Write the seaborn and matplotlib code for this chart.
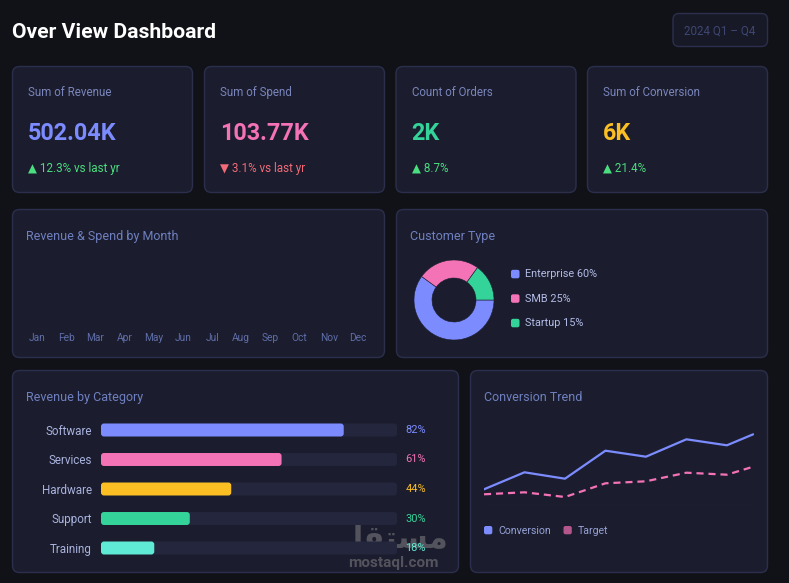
import matplotlib.pyplot as plt
import pandas as pd
import seaborn as sns
from matplotlib.patches import FancyBboxPatch

# ---- data -------------------------------------------------------------
kpi_labels = ["Sum of Revenue", "Sum of Spend", "Count of Orders", "Sum of Conversion"]
kpi_values = ["502.04K", "103.77K", "2K", "6K"]
kpi_deltas = ["▲ 12.3% vs last yr", "▼ 3.1% vs last yr", "▲ 8.7%", "▲ 21.4%"]
kpi_up = [True, False, True, True]

months = ["Jan", "Feb", "Mar", "Apr", "May", "Jun",
          "Jul", "Aug", "Sep", "Oct", "Nov", "Dec"]

customer_types = ["Enterprise", "SMB", "Startup"]
customer_share = [60, 25, 15]

categories = ["Software", "Services", "Hardware", "Support", "Training"]
category_share = [82, 61, 44, 30, 18]

trend_x = [0, 1, 2, 3, 4, 5, 6, 6.65]
conversion = [15.7, 32.7, 26.3, 54.3, 48.3, 65.7, 59.7, 70.7]
target = [10.7, 12.7, 8.0, 21.7, 23.7, 32.3, 30.3, 38.3]

# ---- style ------------------------------------------------------------
BG = "#111218"
CARD = "#1b1d2e"
BORDER = "#2b2f4c"
TRACK = "#24263e"
TITLE = "#6f80c0"
LABEL = "#7985bb"
BLUE = "#7c8cff"
PINK = "#f472b6"
AMBER = "#fbbf24"
GREEN = "#34d399"
TEAL = "#5eead4"
UP = "#4ade80"
DOWN = "#f36b78"

sns.set_style("dark")
plt.rcParams["font.family"] = ["Roboto", "DejaVu Sans"]

W, H = 789, 583
fig = plt.figure(figsize=(W / 100, H / 100), dpi=100)
fig.patch.set_facecolor(BG)

# background canvas in pixel coordinates
bg = fig.add_axes([0, 0, 1, 1])
bg.set_xlim(0, W)
bg.set_ylim(H, 0)
bg.axis("off")


def px_axes(x0, y0, x1, y1):
    ax = fig.add_axes([x0 / W, 1 - y1 / H, (x1 - x0) / W, (y1 - y0) / H])
    ax.set_facecolor("none")
    for s in ax.spines.values():
        s.set_visible(False)
    return ax


def card(x0, y0, x1, y1, fc=CARD, r=7):
    bg.add_patch(FancyBboxPatch((x0, y0), x1 - x0, y1 - y0,
                                boxstyle=f"round,pad=0,rounding_size={r}",
                                fc=fc, ec=BORDER, lw=1))


# header
bg.text(12, 32.5, "Over View Dashboard", color="white", fontsize=15.2,
        fontweight="bold", va="center")
card(673, 13.5, 767.5, 46.5, fc="#171927", r=6)
bg.text(720, 31, "2024 Q1 – Q4", color="#3f4672", fontsize=8.4,
        ha="center", va="center")

# KPI cards
kpi_x = [12.5, 204.5, 396, 587.5]
kpi_colors = [BLUE, PINK, GREEN, AMBER]
for x0, lab, val, dl, up, col in zip(kpi_x, kpi_labels, kpi_values,
                                     kpi_deltas, kpi_up, kpi_colors):
    card(x0, 66.5, x0 + 180, 192.5)
    bg.text(x0 + 16, 92.5, lab, color=LABEL, fontsize=8.3, va="center")
    bg.text(x0 + 15.5, 134, val, color=col, fontsize=16.8,
            fontweight="bold", va="center")
    bg.text(x0 + 16, 168.5, dl, color=UP if up else DOWN, fontsize=8.4,
            va="center")

# row 2 / row 3 cards
card(12.5, 209.5, 384.5, 357.5)
card(396.5, 209.5, 767.5, 357.5)
card(12.5, 370.5, 458.5, 572.5)
card(470.5, 370.5, 767.5, 572.5)
bg.text(26, 236.5, "Revenue & Spend by Month", color=TITLE, fontsize=9, va="center")
bg.text(410, 236.5, "Customer Type", color=TITLE, fontsize=9, va="center")
bg.text(26, 397.5, "Revenue by Category", color=TITLE, fontsize=9, va="center")
bg.text(484, 397.5, "Conversion Trend", color=TITLE, fontsize=9, va="center")

# Revenue & Spend by Month (axis only)
ax_m = px_axes(22.4, 255, 372.6, 329)
ax_m.set_xlim(-0.5, 11.5)
ax_m.set_ylim(0, 1)
ax_m.set_xticks(range(len(months)), months)
ax_m.set_yticks([])
ax_m.tick_params(axis="x", length=0, pad=3, labelsize=7.3, labelcolor="#5f6ea8")
ax_m.grid(False)

# Customer Type donut
ax_d = px_axes(414, 260, 494, 340)
ax_d.pie(customer_share, colors=[BLUE, PINK, GREEN], startangle=0,
         counterclock=False, radius=1,
         wedgeprops=dict(width=0.45, edgecolor=CARD, linewidth=0.4))
ax_d.set_xlim(-1, 1)
ax_d.set_ylim(-1, 1)
for i, (name, share, col) in enumerate(zip(customer_types, customer_share,
                                           [BLUE, PINK, GREEN])):
    y = 274 + i * 24.5
    bg.add_patch(FancyBboxPatch((511, y - 4.2), 8.5, 8.5,
                                boxstyle="round,pad=0,rounding_size=2",
                                fc=col, ec="none"))
    bg.text(525, y, f"{name} {share}%", color="#b3bce6", fontsize=7.8,
            va="center")

# watermark (sits under the chart text)
bg.text(393, 538.5, "\uFEDE\uFED8\uFE98\uFEB4\uFEE3", color="#8a8a8a", alpha=0.5,
        fontsize=22, fontweight="bold", ha="center", va="center",
        family="DejaVu Sans")
bg.text(393, 563, "mostaql.com", color="#8a8a8a", alpha=0.5, fontsize=11,
        fontweight="bold", ha="center", va="center")

# Revenue by Category bars
bar_colors = [BLUE, PINK, AMBER, GREEN, TEAL]
ax_b = px_axes(101, 415.25, 397, 562.75)
sns.barplot(x=[100] * len(categories), y=categories, color=TRACK,
            saturation=1, width=0.44, ax=ax_b)
sns.barplot(x=category_share, y=categories, hue=categories,
            palette=bar_colors, saturation=1, width=0.44, legend=False, ax=ax_b)
for bar in list(ax_b.patches):
    rb = FancyBboxPatch(bar.get_xy(), bar.get_width(), bar.get_height(),
                        boxstyle="round,pad=0,rounding_size=1.0",
                        mutation_aspect=0.1, fc=bar.get_facecolor(), ec="none")
    bar.remove()
    ax_b.add_patch(rb)
ax_b.set_xlim(0, 100)
ax_b.set_xticks([])
ax_b.set_xlabel("")
ax_b.set_ylabel("")
ax_b.grid(False)
ax_b.tick_params(axis="y", length=0, pad=6.5, labelsize=8.4,
                 labelcolor="#a9b3de")
for i, (v, col) in enumerate(zip(category_share, bar_colors)):
    ax_b.annotate(f"{v}%", xy=(100, i), xytext=(6, 0),
                  textcoords="offset points", color=col, fontsize=7.9,
                  va="center", ha="left", annotation_clip=False)

# Conversion Trend lines
ax_l = px_axes(484, 425, 754, 505)
ax_l.axhline(0, color="#23263b", lw=1)
sns.lineplot(x=trend_x, y=conversion, color=BLUE, lw=1.6, ax=ax_l)
sns.lineplot(x=trend_x, y=target, color=PINK, lw=1.6,
             linestyle=(0, (3.2, 2.2)), ax=ax_l)
ax_l.set_xlim(0, 6.67)
ax_l.set_ylim(0, 80)
ax_l.set_xticks([])
ax_l.set_yticks([])
ax_l.grid(False)
for x0, name, col in [(484, "Conversion", BLUE), (563.5, "Target", "#b4558c")]:
    bg.add_patch(FancyBboxPatch((x0, 526), 8.3, 8.3,
                                boxstyle="round,pad=0,rounding_size=2",
                                fc=col, ec="none"))
    bg.text(x0 + 14.5, 530.5, name, color="#96a2d6", fontsize=7.6, va="center")

fig.savefig("out.png", dpi=100, facecolor=BG)
